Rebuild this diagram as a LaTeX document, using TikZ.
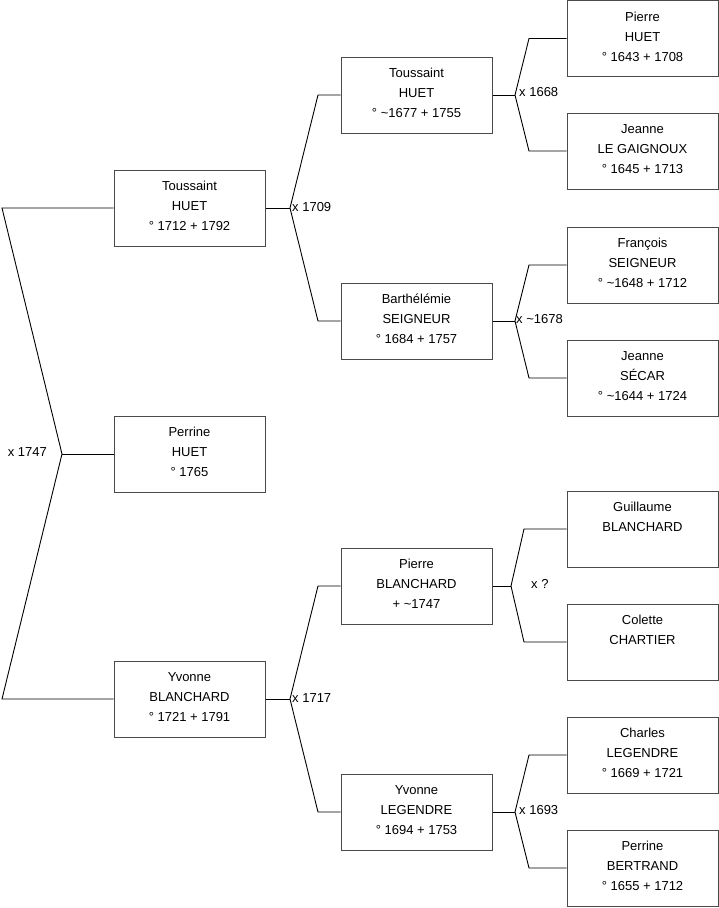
\documentclass[tikz,border=0pt]{standalone}
\usepackage{fontspec}
\setmainfont{Liberation Sans}
\newcommand{\lowdp}{\rule[-4pt]{0pt}{0pt}}
\begin{document}
\begin{tikzpicture}[x=1pt,y=-1pt,
  pbox/.style={draw=boxgray, line width=1pt, fill=white, minimum width=151pt, minimum height=76pt, align=center, inner sep=0pt, font=\fontsize{13}{19.8}\selectfont},
  link/.style={draw=black, line width=0.9pt},
  mlabel/.style={inner sep=0pt, font=\fontsize{13}{15}\selectfont}]
\definecolor{boxgray}{HTML}{4A4A4A}
\useasboundingbox (0,0) rectangle (719,908);
% column 1
\node[pbox] (t1) at (189.5,208) {Toussaint\\HUET\\° 1712 + 1792\lowdp};
\node[pbox] (p1) at (189.5,454) {Perrine\\HUET\\° 1765\lowdp};
\node[pbox] (y1) at (189.5,699) {Yvonne\\BLANCHARD\\° 1721 + 1791\lowdp};
% column 2
\node[pbox] (t2) at (416.5,95) {Toussaint\\HUET\\° \textasciitilde1677 + 1755\lowdp};
\node[pbox] (b2) at (416.5,321) {Barthélémie\\SEIGNEUR\\° 1684 + 1757\lowdp};
\node[pbox] (p2) at (416.5,586) {Pierre\\BLANCHARD\\+ \textasciitilde1747\lowdp};
\node[pbox] (y2) at (416.5,812) {Yvonne\\LEGENDRE\\° 1694 + 1753\lowdp};
% column 3
\node[pbox] (a3) at (642.5,38.5) {Pierre\\HUET\\° 1643 + 1708\lowdp};
\node[pbox] (b3) at (642.5,151) {Jeanne\\LE GAIGNOUX\\° 1645 + 1713\lowdp};
\node[pbox] (c3) at (642.5,265) {François\\SEIGNEUR\\° \textasciitilde1648 + 1712\lowdp};
\node[pbox] (d3) at (642.5,378) {Jeanne\\SÉCAR\\° \textasciitilde1644 + 1724\lowdp};
\node[pbox] (e3) at (642.5,529) {Guillaume\\BLANCHARD\\\phantom{0}\lowdp};
\node[pbox] (f3) at (642.5,642) {Colette\\CHARTIER\\\phantom{0}\lowdp};
\node[pbox] (g3) at (642.5,755) {Charles\\LEGENDRE\\° 1669 + 1721\lowdp};
\node[pbox] (h3) at (642.5,868) {Perrine\\BERTRAND\\° 1655 + 1712\lowdp};
% fork coordinates
\coordinate (k0a) at (2,208);
\coordinate (k0) at (62,454);
\coordinate (k0b) at (2,699);
\coordinate (k1) at (290,208);
\coordinate (k1a) at (318,95);
\coordinate (k1b) at (318,321);
\coordinate (k2) at (290,699);
\coordinate (k2a) at (318,586);
\coordinate (k2b) at (318,812);
\coordinate (k3) at (515,95);
\coordinate (k3a) at (529,38.5);
\coordinate (k3b) at (529,151);
\coordinate (k4) at (515,321);
\coordinate (k4a) at (529,265);
\coordinate (k4b) at (529,378);
\coordinate (k5) at (511,586);
\coordinate (k5a) at (524,529);
\coordinate (k5b) at (524,642);
\coordinate (k6) at (515,812);
\coordinate (k6a) at (529,755);
\coordinate (k6b) at (529,868);
% connectors
\draw[link] (t1.west) -- (k0a) -- (k0) -- (k0b) -- (y1.west);
\draw[link] (k0) -- (p1.west);
\draw[link] (t1.east) -- (k1);
\draw[link] (t2.west) -- (k1a) -- (k1) -- (k1b) -- (b2.west);
\draw[link] (y1.east) -- (k2);
\draw[link] (p2.west) -- (k2a) -- (k2) -- (k2b) -- (y2.west);
\draw[link] (t2.east) -- (k3);
\draw[link] (a3.west) -- (k3a) -- (k3) -- (k3b) -- (b3.west);
\draw[link] (b2.east) -- (k4);
\draw[link] (c3.west) -- (k4a) -- (k4) -- (k4b) -- (d3.west);
\draw[link] (p2.east) -- (k5);
\draw[link] (e3.west) -- (k5a) -- (k5) -- (k5b) -- (f3.west);
\draw[link] (y2.east) -- (k6);
\draw[link] (g3.west) -- (k6a) -- (k6) -- (k6b) -- (h3.west);
% marriage labels
\node[mlabel, anchor=east] (m0) at (47,452) {x 1747};
\node[mlabel, anchor=west] (m1) at (292,207) {x 1709};
\node[mlabel, anchor=west] (m2) at (292,698) {x 1717};
\node[mlabel, anchor=west] (m3) at (519,92) {x 1668};
\node[mlabel, anchor=west] (m4) at (516,319) {x \textasciitilde1678};
\node[mlabel, anchor=west] (m5) at (531,584) {x ?};
\node[mlabel, anchor=west] (m6) at (519,810) {x 1693};
\end{tikzpicture}
\end{document}
